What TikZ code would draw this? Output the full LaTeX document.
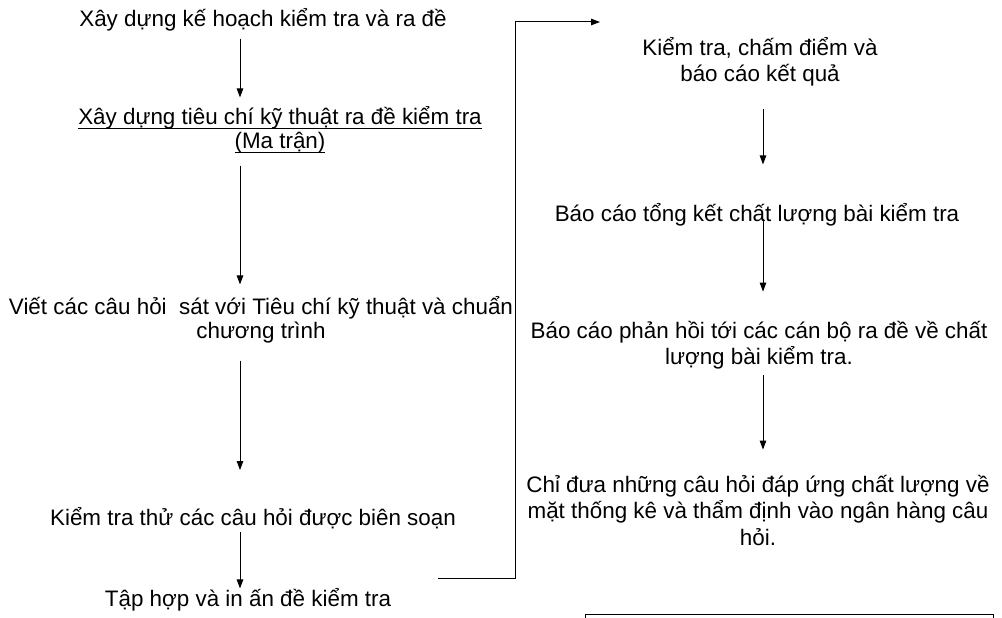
\documentclass[tikz,border=0pt]{standalone}
\usepackage{fontspec}
\setmainfont{Liberation Sans}
\usetikzlibrary{arrows.meta,calc}
\newcommand\ulx[1]{\setbox0\hbox{#1}\rlap{\rule[-4.5pt]{\wd0}{1.7pt}}\box0}

\begin{document}
\begin{tikzpicture}[x=1pt,y=-1pt,
  txt/.style={align=center,inner sep=0pt,font=\fontsize{22.4}{24}\selectfont},
  txtr/.style={txt,font=\fontsize{22.4}{26.5}\selectfont},
  arr/.style={line width=1pt,-{Triangle[length=9pt,width=6.5pt]}}]
\useasboundingbox (0,0) rectangle (1002,618);

% left column
\node[txt] (n1) at (263,20) {Xây dựng kế hoạch kiểm tra và ra đề};
\node[txt] (n2) at (280,130) {\ulx{Xây dựng tiêu chí kỹ thuật ra đề kiểm tra}\\\ulx{(Ma trận)}};
\node[txt] (n3) at (261,320) {Viết các câu hỏi\ \ sát với Tiêu chí kỹ thuật và chuẩn\\chương trình};
\node[txt] (n4) at (253,518) {Kiểm tra thử các câu hỏi được biên soạn};
\node[txt] (n5) at (248,600) {Tập hợp và in ấn đề kiểm tra};
\coordinate (lcol) at (240,0);

% right column
\node[txtr] (r1) at (760,62) {Kiểm tra, chấm điểm và\\báo cáo kết quả};
\node[txtr] (r2) at (757,215) {Báo cáo tổng kết chất lượng bài kiểm tra};
\node[txtr] (r3) at (759,345) {Báo cáo phản hồi tới các cán bộ ra đề về chất\\lượng bài kiểm tra.};
\node[txtr] (r4) at (758,510) {Chỉ đưa những câu hỏi đáp ứng chất lượng về\\mặt thống kê và thẩm định vào ngân hàng câu\\hỏi.};
\coordinate (rcol) at (763,0);

\foreach \a/\b/\s/\t in {n1/n2/7/9,n2/n3/12/12,n3/n4/17/37,n4/n5/3/0}
  \draw[arr,shorten <=\s pt,shorten >=\t pt] (\a.south -| lcol) -- (\b.north -| lcol);
\foreach \a/\b/\s/\t in {r1/r2/22/39,r2/r3/-8/29,r3/r4/6/25}
  \draw[arr,shorten <=\s pt,shorten >=\t pt] (\a.south -| rcol) -- (\b.north -| rcol);

% link between the columns
\coordinate (gofrom) at (438,578);
\coordinate (goto) at (600,22);
\draw[arr] (gofrom) -- ++(77,0) |- (goto);

% box cut by the page edge
\begin{scope}
  \clip (0,0) rectangle (1002,618);
  \draw[line width=1pt] (585,614) rectangle (993,640);
\end{scope}
\end{tikzpicture}
\end{document}
